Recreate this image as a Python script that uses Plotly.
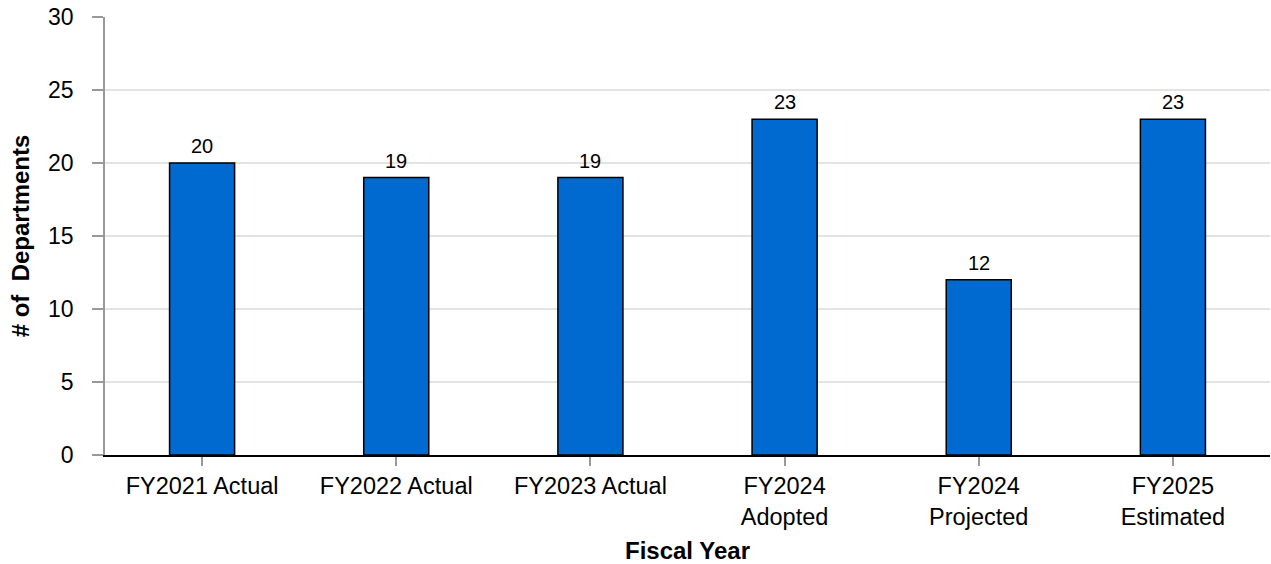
import plotly.graph_objects as go

categories = ["FY2021 Actual", "FY2022 Actual", "FY2023 Actual", "FY2024<br>Adopted", "FY2024<br>Projected", "FY2025<br>Estimated"]
values = [20, 19, 19, 23, 12, 23]
y_ticks = [0, 5, 10, 15, 20, 25, 30]

FONT = "Liberation Sans, Arial"

fig = go.Figure(go.Bar(
    x=categories, y=values, width=0.335,
    marker=dict(color="#006AD1", line=dict(color="#000000", width=1.5)),
    hoverinfo="x+y",
))

for c, v in zip(categories, values):
    fig.add_annotation(
        x=c, y=v, text=str(v), showarrow=False, yanchor="bottom", yshift=4,
        font=dict(family=FONT, size=20, color="#000000"),
    )

fig.update_layout(
    width=1271, height=564,
    margin=dict(l=105, r=1, t=17, b=109),
    plot_bgcolor="white", paper_bgcolor="white",
    font=dict(family=FONT, size=22, color="#000000"),
    showlegend=False,
)
fig.update_yaxes(
    range=[0, 30], tickvals=y_ticks, ticks="outside", ticklen=11, tickcolor="#999999", tickwidth=1.5,
    showline=True, linecolor="#999999", linewidth=1.5,
    showgrid=True, gridcolor="#E3E3E3", gridwidth=1.5, zeroline=False,
    ticklabelstandoff=14,
    tickfont=dict(size=23),
    title=dict(text="<b># of&nbsp; Departments</b>", font=dict(size=24), standoff=12),
)
fig.update_xaxes(
    ticks="outside", ticklen=9, tickcolor="#999999", tickwidth=1.5,
    showline=True, linecolor="#000000", linewidth=2,
    tickfont=dict(size=23.5),
    title=dict(text="<b>Fiscal Year</b>", font=dict(size=24), standoff=13),
)

fig.write_html("out.html")
